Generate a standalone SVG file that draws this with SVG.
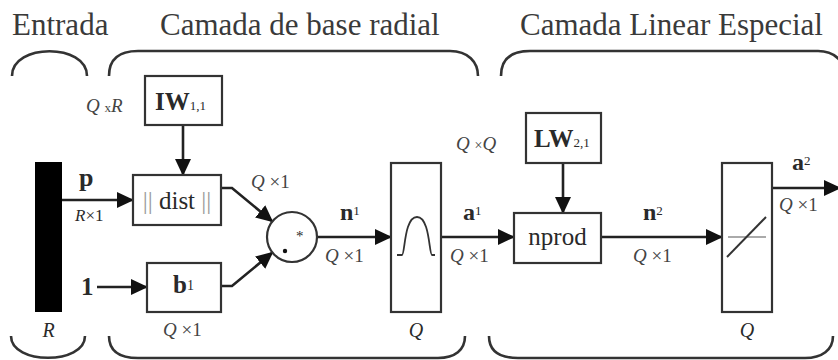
<svg xmlns="http://www.w3.org/2000/svg" width="838" height="360" viewBox="0 0 838 360">
<defs>
<style>
.t{font-family:"Liberation Serif","Times New Roman",serif;fill:#2a2a2a}
.title{font-size:31px;fill:#3a3a3a}
.b{font-weight:bold}
.i{font-style:italic}
.dim{font-size:19px;fill:#444}
.box{fill:#fff;stroke:#333;stroke-width:2.2}
.ln{fill:none;stroke:#222;stroke-width:2.6}
.br{fill:none;stroke:#333;stroke-width:2.6}
</style>
<marker id="ah" markerUnits="userSpaceOnUse" markerWidth="17" markerHeight="16" refX="16" refY="8" orient="auto">
<path d="M0,0 L17,8 L0,16 z" fill="#111"/>
</marker>
</defs>
<rect width="838" height="360" fill="#fff"/>

<g id="titles">
<text class="t title" x="12" y="35">Entrada</text>
<text class="t title" x="160" y="35">Camada de base radial</text>
<text class="t title" x="520" y="35">Camada Linear Especial</text>
</g>

<g id="braces">
<path class="br" d="M12,76 C12,43 87,43 87,76"/>
<path class="br" d="M109,76 C109,60 118,51 138,51 L450,51 C468,51 478,62 478,76"/>
<path class="br" d="M501,76 C501,60 510,51 530,51 L818,51 C835,51 845,62 845,76"/>
<path class="br" d="M11,336 C11,365 85,365 85,336"/>
<path class="br" d="M109,336 C109,350 118,358 138,358 L438,358 C455,358 465,350 465,336"/>
<path class="br" d="M489,336 C489,350 498,358 518,358 L805,358 C822,358 833,350 833,336"/>
</g>

<g id="connectors">
<line class="ln" x1="62" y1="200" x2="133" y2="200" marker-end="url(#ah)"/>
<line class="ln" x1="183" y1="125" x2="183" y2="175" marker-end="url(#ah)"/>
<line class="ln" x1="97" y1="287" x2="147" y2="287" marker-end="url(#ah)"/>
<polyline class="ln" points="221,188 232,188 272.5,221.5" marker-end="url(#ah)"/>
<polyline class="ln" points="221,286 232,286 272.5,252.5" marker-end="url(#ah)"/>
<line class="ln" x1="317" y1="237" x2="391" y2="237" marker-end="url(#ah)"/>
<line class="ln" x1="441" y1="237" x2="514" y2="237" marker-end="url(#ah)"/>
<line class="ln" x1="563" y1="163" x2="563" y2="213" marker-end="url(#ah)"/>
<line class="ln" x1="601" y1="237" x2="722" y2="237" marker-end="url(#ah)"/>
<line class="ln" x1="772" y1="188" x2="840" y2="188" marker-end="url(#ah)"/>
</g>

<g id="input">
<rect x="35" y="162" width="27" height="150" fill="#000"/>
<text class="t i" x="48.5" y="337" font-size="20" text-anchor="middle">R</text>
<text class="t b" x="79" y="186" font-size="26">p</text>
<text class="t" x="75" y="221" font-size="17"><tspan class="i">R</tspan>×1</text>
<text class="t b" x="81" y="295" font-size="25">1</text>
</g>

<g id="iw">
<rect class="box" x="145" y="76" width="77" height="49"/>
<text class="t b" x="155" y="110" font-size="25">IW<tspan font-size="13" font-weight="normal">1,1</tspan></text>
<text class="t dim" x="86" y="112" font-size="17"><tspan class="i">Q</tspan> <tspan font-size="13">x</tspan><tspan class="i">R</tspan></text>
</g>

<g id="dist">
<rect class="box" x="133" y="175" width="88" height="50"/>
<text class="t" x="177" y="209" font-size="25" text-anchor="middle"><tspan fill="#999">||</tspan> dist <tspan fill="#999">||</tspan></text>
</g>

<g id="bias">
<rect class="box" x="147" y="263" width="74" height="49"/>
<text class="t b" x="173" y="293" font-size="25">b<tspan font-size="14" font-weight="normal" dy="-3">1</tspan></text>
<text class="t dim" x="163" y="336"><tspan class="i">Q</tspan> ×1</text>
</g>

<g id="mult">
<circle cx="292" cy="237" r="25" fill="#fff" stroke="#333" stroke-width="2.2"/>
<text class="t" x="296" y="241" font-size="15">*</text>
<circle cx="285" cy="251" r="2.2" fill="#111"/>
<text class="t dim" x="251" y="188"><tspan class="i">Q</tspan> ×1</text>
</g>

<g id="n1">
<text class="t b" x="340" y="220" font-size="24">n<tspan font-size="13" font-weight="normal" dy="-5">1</tspan></text>
<text class="t dim" x="325" y="262"><tspan class="i">Q</tspan> ×1</text>
</g>

<g id="radbas">
<rect class="box" x="391" y="163" width="50" height="149"/>
<path d="M397,255 L402,255 C405,255 404,217 417,217 C430,217 429,255 432,255 L435,255" fill="none" stroke="#333" stroke-width="1.8"/>
<text class="t i" x="416" y="337" font-size="20" text-anchor="middle">Q</text>
</g>

<g id="a1">
<text class="t b" x="463" y="220" font-size="24">a<tspan font-size="13" font-weight="normal" dy="-5">1</tspan></text>
<text class="t dim" x="450" y="262"><tspan class="i">Q</tspan> ×1</text>
</g>

<g id="lw">
<rect class="box" x="526" y="113" width="75" height="50"/>
<text class="t b" x="534" y="147" font-size="25">LW<tspan font-size="13" font-weight="normal">2,1</tspan></text>
<text class="t dim" x="456" y="150"><tspan class="i">Q</tspan> <tspan font-size="14">×</tspan><tspan class="i">Q</tspan></text>
</g>

<g id="nprod">
<rect class="box" x="514" y="213" width="87" height="50"/>
<text class="t" x="557.5" y="245" font-size="25" text-anchor="middle">nprod</text>
</g>

<g id="n2">
<text class="t b" x="643" y="220" font-size="24">n<tspan font-size="13" font-weight="normal" dy="-5">2</tspan></text>
<text class="t dim" x="633" y="262"><tspan class="i">Q</tspan> ×1</text>
</g>

<g id="purelin">
<rect class="box" x="722" y="163" width="50" height="149"/>
<line x1="728" y1="237" x2="766" y2="237" stroke="#aaa" stroke-width="2"/>
<line x1="727" y1="257" x2="766" y2="217" stroke="#333" stroke-width="2"/>
<text class="t i" x="747" y="337" font-size="20" text-anchor="middle">Q</text>
</g>

<g id="a2">
<text class="t b" x="792" y="170" font-size="24">a<tspan font-size="13" font-weight="normal" dy="-5">2</tspan></text>
<text class="t dim" x="779" y="211"><tspan class="i">Q</tspan> ×1</text>
</g>
</svg>
